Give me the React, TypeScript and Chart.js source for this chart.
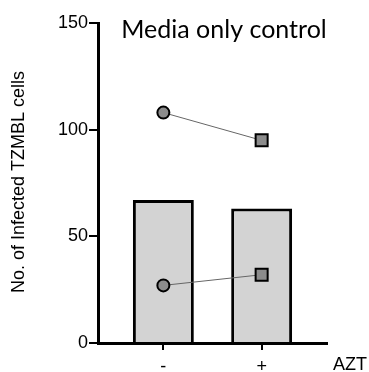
import React, { useEffect, useRef } from "react";
import { Chart, registerables } from "chart.js";

Chart.register(...registerables);

const groupPositions = [0, 1];
const groupLabels = ["-", "+"];
const barMeans = [67, 63];
const donorA = [108, 95];
const donorB = [27, 32];
const yTicks = [0, 50, 100, 150];
const titleText = "Media only control";
const yTitle = "No. of Infected TZMBL cells";
const xTitle = "AZT";

const textPlugin = {
  id: "textPlugin",
  afterDraw(chart: any) {
    const ctx = chart.ctx;
    ctx.save();
    ctx.fillStyle = "#000";
    ctx.font = "25px Lato";
    ctx.textAlign = "center";
    ctx.textBaseline = "middle";
    ctx.fillText(titleText, 224, 30);

    ctx.font = "18px 'Liberation Sans'";
    ctx.textAlign = "left";
    ctx.fillText(xTitle, 333, 365);

    ctx.translate(19, 182);
    ctx.rotate(-Math.PI / 2);
    ctx.textAlign = "center";
    ctx.font = "18px 'Liberation Sans'";
    ctx.fillText(yTitle, 0, 0);
    ctx.restore();
  },
};

export default function App() {
  const ref = useRef<HTMLCanvasElement | null>(null);
  useEffect(() => {
    document.body.style.margin = "0";
    const canvas = ref.current!;
    const pt = (ys: number[]) => groupPositions.map((x, i) => ({ x, y: ys[i] }));
    const lineDs = (ys: number[]) => ({
      type: "line",
      data: pt(ys),
      borderColor: "#666",
      borderWidth: 1,
      pointStyle: ["circle", "rect"],
      pointRadius: [6, 8.5],
      pointBackgroundColor: "#8c8c8c",
      pointBorderColor: "#000",
      pointBorderWidth: 2,
      order: 1,
    });
    const chart = new Chart(canvas, {
      type: "bar",
      data: {
        datasets: [
          {
            type: "bar",
            data: pt(barMeans),
            backgroundColor: "#d3d3d3",
            borderColor: "#000",
            borderWidth: 3,
            borderSkipped: "start",
            barPercentage: 0.62,
            categoryPercentage: 1,
            order: 2,
          } as any,
          lineDs(donorA) as any,
          lineDs(donorB) as any,
        ],
      },
      options: {
        animation: false,
        responsive: false,
        events: [],
        layout: { padding: { left: 0, top: 23, right: 42, bottom: 0 } },
        plugins: { legend: { display: false }, tooltip: { enabled: false }, title: { display: false } },
        scales: {
          x: {
            type: "linear",
            min: -0.665,
            max: 1.665,
            offset: false,
            afterFit: (s: any) => { s.height = 29; },
            afterBuildTicks: (s: any) => { s.ticks = groupPositions.map((v) => ({ value: v })); },
            ticks: {
              color: "#000",
              font: { family: "'Liberation Sans'", size: 18 },
              padding: 6,
              callback: (v: any) => groupLabels[groupPositions.indexOf(Number(v))] ?? "",
            },
            grid: { display: true, offset: false, drawOnChartArea: false, drawTicks: true, tickLength: 7, lineWidth: 2, color: "#000" },
            border: { display: true, width: 3, color: "#000" },
          },
          y: {
            type: "linear",
            min: 0,
            max: 150,
            afterFit: (s: any) => { s.width = 98; },
            afterBuildTicks: (s: any) => { s.ticks = yTicks.map((v) => ({ value: v })); },
            ticks: {
              color: "#000",
              font: { family: "'Liberation Sans'", size: 18 },
              padding: 1,
            },
            grid: { display: true, drawOnChartArea: false, drawTicks: true, tickLength: 9, lineWidth: 2, color: "#000" },
            border: { display: true, width: 3, color: "#000" },
          },
        },
      },
      plugins: [textPlugin],
    });
    return () => chart.destroy();
  }, []);
  return <canvas ref={ref} width={369} height={372} style={{ display: "block" }} />;
}
